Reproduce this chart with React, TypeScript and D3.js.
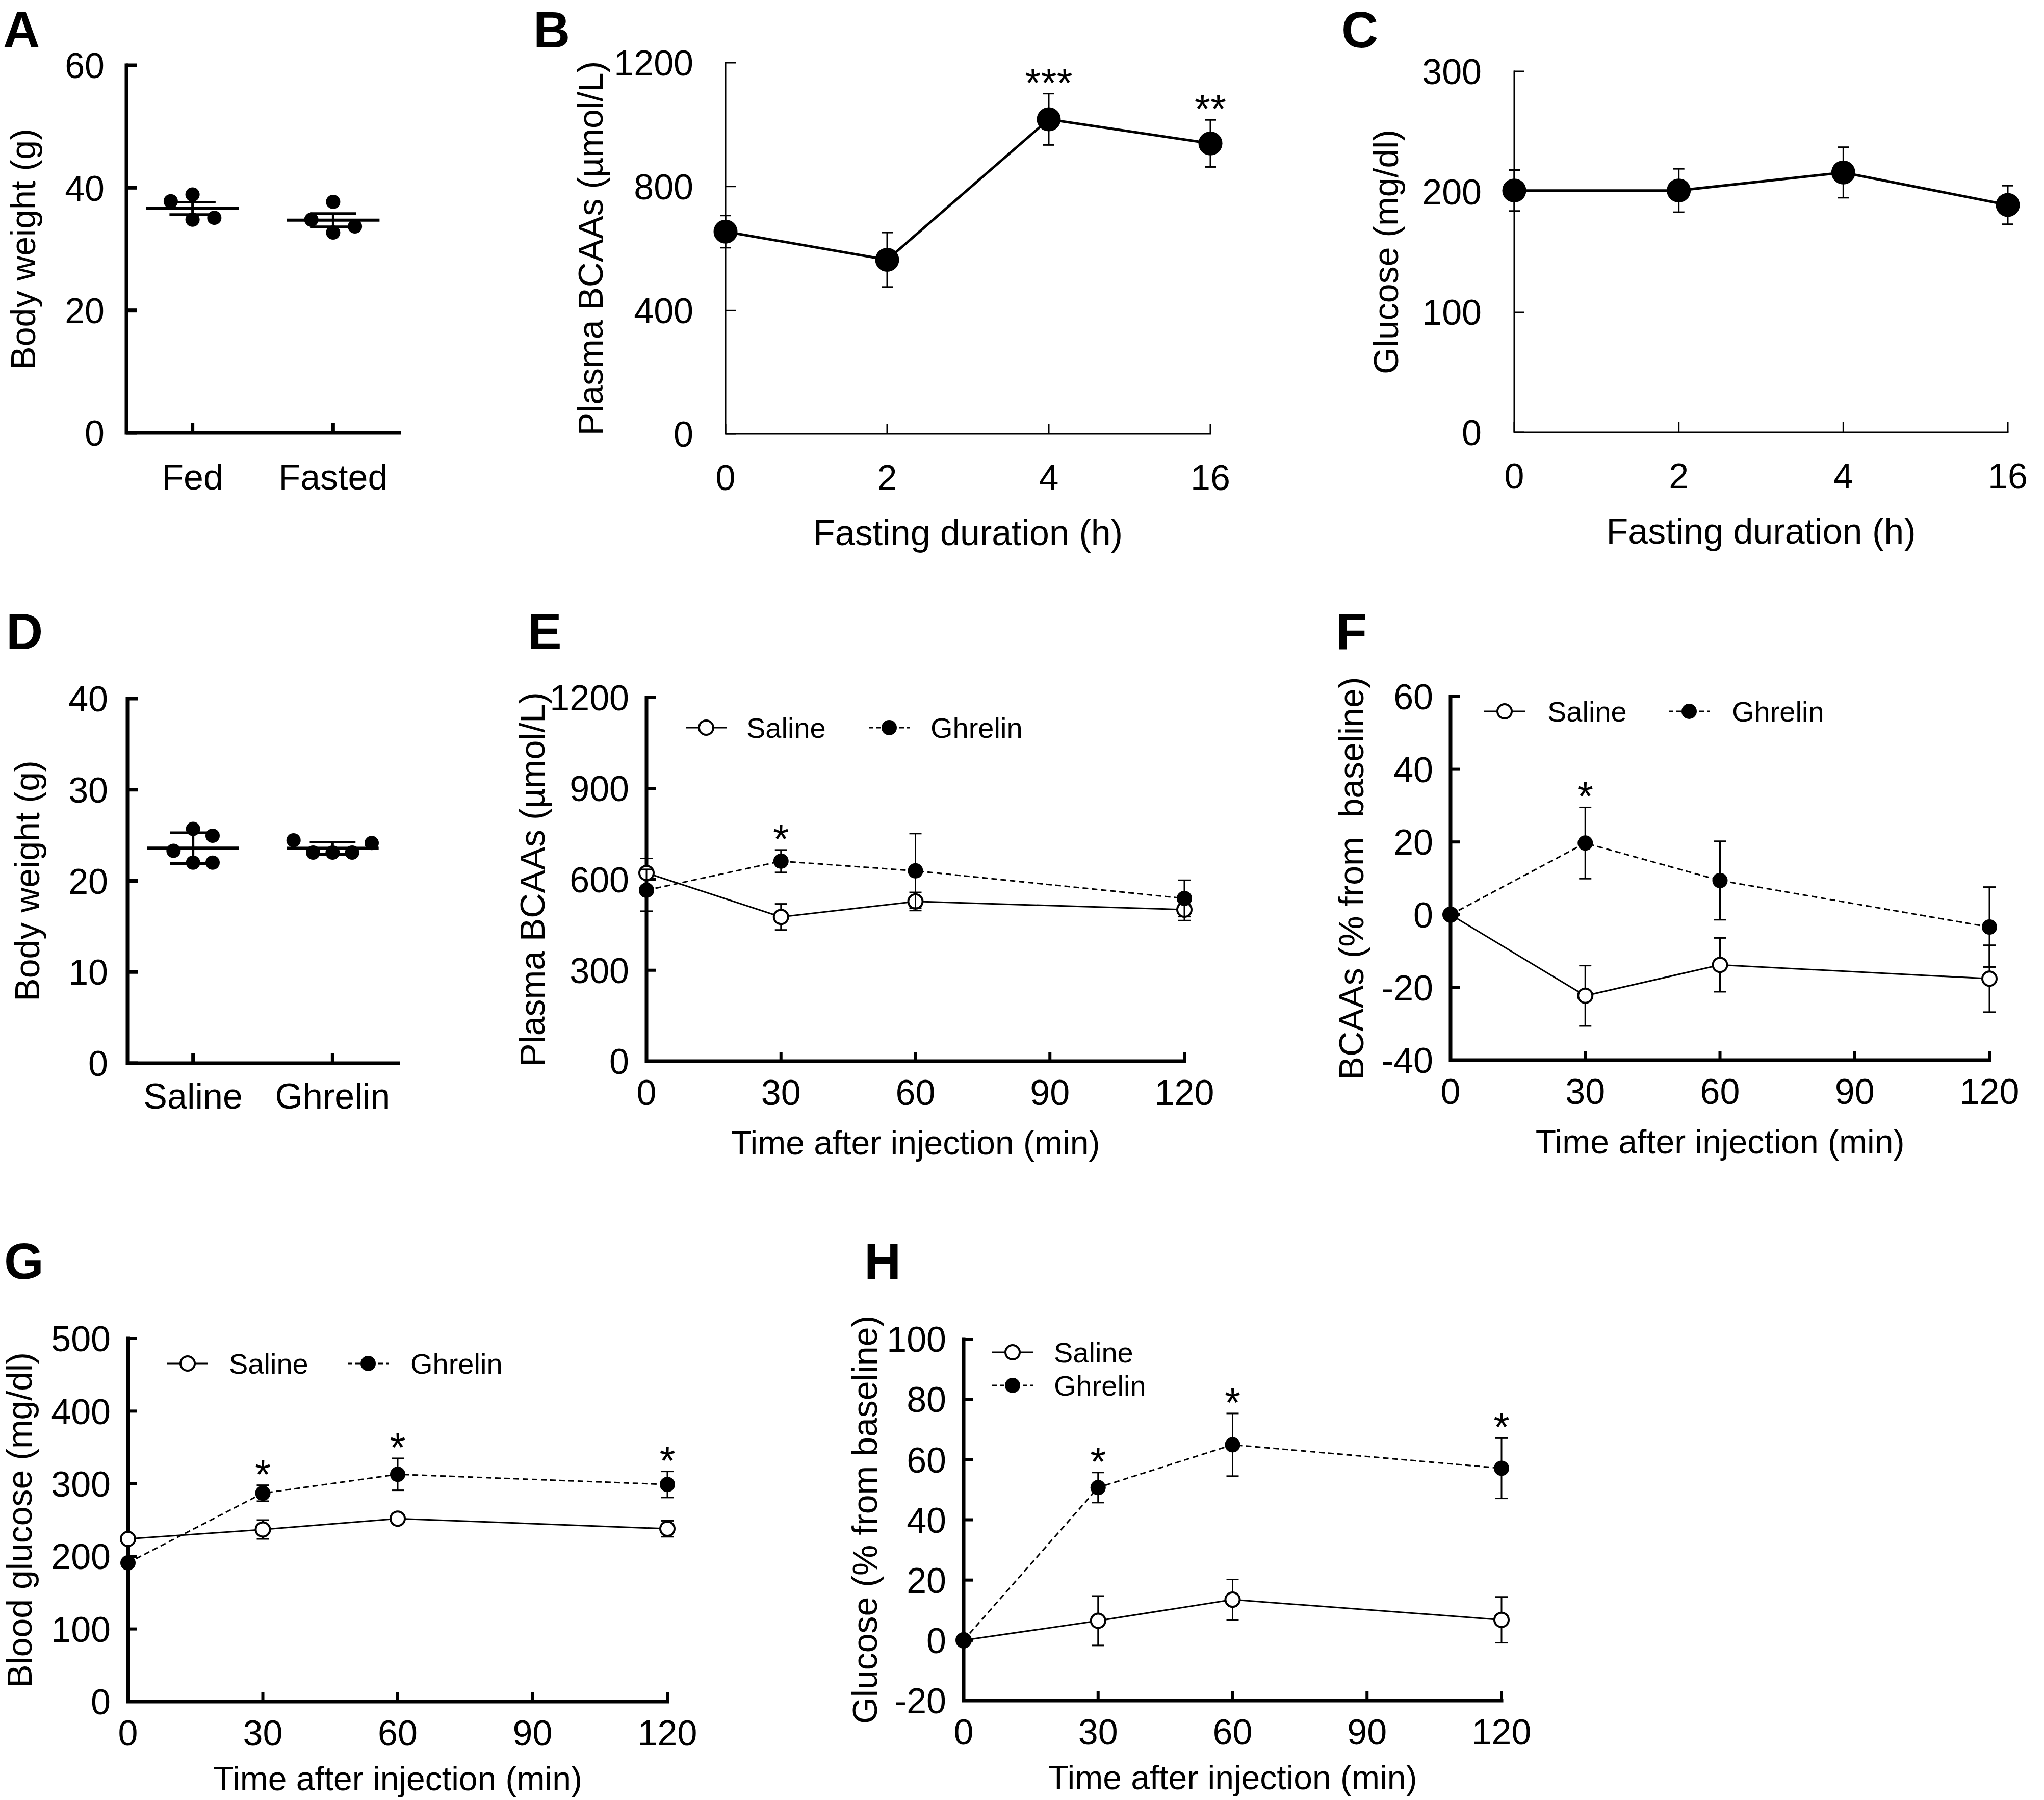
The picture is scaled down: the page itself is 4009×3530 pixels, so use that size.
import React from 'react';
import * as d3 from 'd3';

const FONT = "'Liberation Sans', Arial, Helvetica, sans-serif";

// ================= DATA =================
// Panel A – body weight, fed vs fasted
const groupsA = ['Fed', 'Fasted'];
const fedWeights = [38.9, 37.8, 34.8, 35.1];
const fastedWeights = [37.7, 32.7, 34.8, 33.7];
const ticksA = [0, 20, 40, 60];

// Panel B – plasma BCAAs vs fasting duration
const fastingHours = ['0', '2', '4', '16'];
const bcaaFastMean = [654, 563, 1017, 939];
const bcaaFastSem = [52, 88, 83, 76];
const starsB = ['', '', '***', '**'];
const ticksB = [0, 400, 800, 1200];

// Panel C – glucose vs fasting duration
const glucoseFastMean = [201, 201, 216, 189];
const glucoseFastSem = [17, 18, 21, 16];
const starsC = ['', '', '', ''];
const ticksC = [0, 100, 200, 300];

// Panel D – body weight, saline vs ghrelin
const groupsD = ['Saline', 'Ghrelin'];
const salineWeights = [22.0, 23.3, 22.0, 25.7, 24.95];
const ghrelinWeights = [23.1, 23.1, 23.1, 24.45, 24.15];
const ticksD = [0, 10, 20, 30, 40];

// Time course panels
const injectionTimes = [0, 30, 60, 120];
const timeTicks = [0, 30, 60, 90, 120];
const seriesNames = ['Saline', 'Ghrelin'];

// Panel E – plasma BCAAs after injection
const bcaaSalineMean = [621, 476, 527, 500];
const bcaaSalineSem = [48, 43, 30, 36];
const bcaaGhrelinMean = [564, 660, 628, 537];
const bcaaGhrelinSem = [69, 37, 123, 60];
const starsE = ['', '*', '', ''];
const ticksE = [0, 300, 600, 900, 1200];

// Panel F – BCAAs (% from baseline)
const bcaaPctSalineMean = [0, -22.3, -13.8, -17.6];
const bcaaPctSalineSem = [0, 8.3, 7.4, 9.2];
const bcaaPctGhrelinMean = [0, 19.7, 9.4, -3.4];
const bcaaPctGhrelinSem = [0, 9.8, 10.8, 11];
const starsF = ['', '*', '', ''];
const ticksF = [-40, -20, 0, 20, 40, 60];

// Panel G – blood glucose after injection
const glucoseSalineMean = [224, 237, 252, 238];
const glucoseSalineSem = [5, 13, 5, 11];
const glucoseGhrelinMean = [191, 287, 313, 299];
const glucoseGhrelinSem = [6, 11, 22, 18];
const starsG = ['', '*', '*', '*'];
const ticksG = [0, 100, 200, 300, 400, 500];

// Panel H – glucose (% from baseline)
const glucosePctSalineMean = [0, 6.5, 13.5, 6.8];
const glucosePctSalineSem = [0, 8.2, 6.7, 7.6];
const glucosePctGhrelinMean = [0, 50.7, 64.9, 57.1];
const glucosePctGhrelinSem = [0, 5, 10.4, 10];
const starsH = ['', '*', '*', '*'];
const ticksH = [-20, 0, 20, 40, 60, 80, 100];

// ================= STYLES =================
type Box = { x0: number; x1: number; yTop: number; yBot: number };

const thinStyle = {
  axisW: 3, tickW: 3, tickLen: 20, tickFs: 70, tickGap: 63, xLabelDy: 110,
  titleDy: 218, titleFs: 70, lineW: 5, errW: 3, capHalf: 11, r: 23.5,
  ringR: 22, ringW: 4, starFs: 80, starDy: 6, dash: '11 7', legendFs: 56, legendHalf: 40,
};
const timeStyle = {
  axisW: 7, tickW: 6, tickLen: 18, tickFs: 70, tickGap: 34, xLabelDy: 86,
  titleDy: 183, titleFs: 66, lineW: 3, errW: 3, capHalf: 12, r: 15,
  ringR: 14, ringW: 4, starFs: 80, starDy: 6, dash: '11 7', legendFs: 56, legendHalf: 40,
};
const bottomStyle = { ...timeStyle, titleDy: 174 };

function PanelLetter({ x, y, letter }: { x: number; y: number; letter: string }) {
  return (
    <text x={x} y={y} fontSize={100} fontWeight="bold" fontFamily={FONT}>
      {letter}
    </text>
  );
}

function YTitle({ x, box, text, size }: { x: number; box: Box; text: string; size: number }) {
  const cy = (box.yTop + box.yBot) / 2;
  return (
    <text
      transform={`translate(${x},${cy}) rotate(-90)`}
      textAnchor="middle"
      fontSize={size}
      fontFamily={FONT}
      style={{ whiteSpace: 'pre' }}
    >
      {text}
    </text>
  );
}

// ---------- Scatter (dot plot) panel ----------
function beeswarm(values: number[], y: (v: number) => number, thresh: number) {
  const placed: { col: number; py: number }[] = [];
  const order = [0, -1, 1, -2, 2, -3, 3];
  return values.map((v) => {
    const py = y(v);
    for (const c of order) {
      if (!placed.some((p) => p.col === c && Math.abs(p.py - py) < thresh)) {
        placed.push({ col: c, py });
        return { v, col: c };
      }
    }
    placed.push({ col: 0, py });
    return { v, col: 0 };
  });
}

type ScatterProps = {
  box: Box;
  groups: string[];
  values: number[][];
  ticks: number[];
  errType: 'sem' | 'sd';
  letter: string;
  letterPos: [number, number];
  yTitle: string;
  yTitleX: number;
  catDy: number;
  tickGap: number;
  colFrac: number;
};

function ScatterPanel(p: ScatterProps) {
  const { box } = p;
  const x = d3.scalePoint<string>().domain(p.groups).range([box.x0, box.x1]).padding(0.47);
  const y = d3
    .scaleLinear()
    .domain([p.ticks[0], p.ticks[p.ticks.length - 1]])
    .range([box.yBot, box.yTop]);
  const step = x.step();
  const colW = step * p.colFrac;
  const meanHalf = step * 0.33;
  const capHalf = step * 0.164;
  const axisW = 7;
  const tickLen = 20;
  return (
    <g>
      <PanelLetter x={p.letterPos[0]} y={p.letterPos[1]} letter={p.letter} />
      <YTitle x={p.yTitleX} box={box} text={p.yTitle} size={68} />
      <path
        d={`M${box.x0},${box.yTop}V${box.yBot}H${box.x1}`}
        fill="none"
        stroke="#000"
        strokeWidth={axisW}
        strokeLinecap="square"
      />
      {p.ticks.map((t) => (
        <g key={t}>
          <line x1={box.x0} x2={box.x0 + tickLen} y1={y(t)} y2={y(t)} stroke="#000" strokeWidth={axisW} />
          <text x={box.x0 - p.tickGap} y={y(t)} dy="0.36em" textAnchor="end" fontSize={70} fontFamily={FONT}>
            {t}
          </text>
        </g>
      ))}
      {p.groups.map((g, gi) => {
        const cx = x(g) as number;
        const vals = p.values[gi];
        const m = d3.mean(vals) as number;
        const sd = d3.deviation(vals) as number;
        const err = p.errType === 'sem' ? sd / Math.sqrt(vals.length) : sd;
        const pts = beeswarm(vals, y, 42);
        return (
          <g key={g}>
            <line x1={cx} x2={cx} y1={box.yBot} y2={box.yBot - tickLen} stroke="#000" strokeWidth={axisW} />
            <text x={cx} y={box.yBot + p.catDy} textAnchor="middle" fontSize={70} fontFamily={FONT}>
              {g}
            </text>
            {pts.map((d, i) => (
              <circle key={i} cx={cx + d.col * colW} cy={y(d.v)} r={14} fill="#000" />
            ))}
            <line x1={cx - meanHalf} x2={cx + meanHalf} y1={y(m)} y2={y(m)} stroke="#000" strokeWidth={6} />
            <line x1={cx} x2={cx} y1={y(m - err)} y2={y(m + err)} stroke="#000" strokeWidth={5} />
            <line x1={cx - capHalf} x2={cx + capHalf} y1={y(m + err)} y2={y(m + err)} stroke="#000" strokeWidth={5} />
            <line x1={cx - capHalf} x2={cx + capHalf} y1={y(m - err)} y2={y(m - err)} stroke="#000" strokeWidth={5} />
          </g>
        );
      })}
    </g>
  );
}

// ---------- Line (mean ± SEM) panel ----------
type Series = { name: string; mean: number[]; sem: number[]; open: boolean; dashed: boolean };
type LegendItem = { series: number; mx: number; my: number; tx: number };

type LineProps = {
  box: Box;
  xPos: (i: number) => number;
  xTicks: { x: number; label: string }[];
  ticks: number[];
  series: Series[];
  stars: string[];
  st: typeof timeStyle;
  letter: string;
  letterPos: [number, number];
  yTitle: string;
  yTitleX: number;
  xTitle: string;
  legend?: LegendItem[];
};

function LinePanel(p: LineProps) {
  const { box, st } = p;
  const y = d3
    .scaleLinear()
    .domain([p.ticks[0], p.ticks[p.ticks.length - 1]])
    .range([box.yBot, box.yTop]);
  const line = d3
    .line<number>()
    .x((_, i) => p.xPos(i))
    .y((d) => y(d));

  const marker = (s: Series, cx: number, cy: number, key?: any) =>
    s.open ? (
      <circle key={key} cx={cx} cy={cy} r={st.ringR} fill="#fff" stroke="#000" strokeWidth={st.ringW} />
    ) : (
      <circle key={key} cx={cx} cy={cy} r={st.r} fill="#000" />
    );

  return (
    <g>
      <PanelLetter x={p.letterPos[0]} y={p.letterPos[1]} letter={p.letter} />
      <YTitle x={p.yTitleX} box={box} text={p.yTitle} size={68} />
      <text
        x={(box.x0 + box.x1) / 2}
        y={box.yBot + st.titleDy}
        textAnchor="middle"
        fontSize={st.titleFs}
        fontFamily={FONT}
      >
        {p.xTitle}
      </text>
      <path
        d={`M${box.x0},${box.yTop}V${box.yBot}H${box.x1}`}
        fill="none"
        stroke="#000"
        strokeWidth={st.axisW}
        strokeLinecap="square"
      />
      {p.ticks.map((t) => (
        <g key={t}>
          <line x1={box.x0} x2={box.x0 + st.tickLen} y1={y(t)} y2={y(t)} stroke="#000" strokeWidth={st.tickW} />
          <text x={box.x0 - st.tickGap} y={y(t)} dy="0.36em" textAnchor="end" fontSize={st.tickFs} fontFamily={FONT}>
            {t}
          </text>
        </g>
      ))}
      {p.xTicks.map((t, i) => (
        <g key={i}>
          <line x1={t.x} x2={t.x} y1={box.yBot} y2={box.yBot - st.tickLen} stroke="#000" strokeWidth={st.tickW} />
          <text x={t.x} y={box.yBot + st.xLabelDy} textAnchor="middle" fontSize={st.tickFs} fontFamily={FONT}>
            {t.label}
          </text>
        </g>
      ))}
      {p.series.map((s, si) => (
        <g key={si}>
          {s.sem.map((e, i) =>
            e > 0 ? (
              <g key={i}>
                <line x1={p.xPos(i)} x2={p.xPos(i)} y1={y(s.mean[i] - e)} y2={y(s.mean[i] + e)} stroke="#000" strokeWidth={st.errW} />
                <line x1={p.xPos(i) - st.capHalf} x2={p.xPos(i) + st.capHalf} y1={y(s.mean[i] + e)} y2={y(s.mean[i] + e)} stroke="#000" strokeWidth={st.errW} />
                <line x1={p.xPos(i) - st.capHalf} x2={p.xPos(i) + st.capHalf} y1={y(s.mean[i] - e)} y2={y(s.mean[i] - e)} stroke="#000" strokeWidth={st.errW} />
              </g>
            ) : null
          )}
          <path
            d={line(s.mean) as string}
            fill="none"
            stroke="#000"
            strokeWidth={st.lineW}
            strokeDasharray={s.dashed ? st.dash : undefined}
          />
          {s.mean.map((m, i) => marker(s, p.xPos(i), y(m), i))}
        </g>
      ))}
      {p.stars.map((s, i) => {
        if (!s) return null;
        const top = d3.max(p.series, (ser) => ser.mean[i] + ser.sem[i]) as number;
        return (
          <text key={i} x={p.xPos(i)} y={y(top) + st.starDy} textAnchor="middle" fontSize={st.starFs} fontFamily={FONT}>
            {s}
          </text>
        );
      })}
      {p.legend?.map((l, li) => {
        const s = p.series[l.series];
        return (
          <g key={li}>
            <line
              x1={l.mx - st.legendHalf}
              x2={l.mx + st.legendHalf}
              y1={l.my}
              y2={l.my}
              stroke="#000"
              strokeWidth={st.lineW}
              strokeDasharray={s.dashed ? '9 6' : undefined}
            />
            {marker(s, l.mx, l.my)}
            <text x={l.tx} y={l.my} dy="0.36em" fontSize={st.legendFs} fontFamily={FONT}>
              {s.name}
            </text>
          </g>
        );
      })}
    </g>
  );
}

// ================= LAYOUT =================
const boxA: Box = { x0: 248, x1: 783, yTop: 128, yBot: 849 };
const boxB: Box = { x0: 1423, x1: 2374, yTop: 123, yBot: 851 };
const boxC: Box = { x0: 2970, x1: 3938, yTop: 140, yBot: 848 };
const boxD: Box = { x0: 250, x1: 781, yTop: 1370, yBot: 2085 };
const boxE: Box = { x0: 1268, x1: 2323, yTop: 1368, yBot: 2081 };
const boxF: Box = { x0: 2845, x1: 3902, yTop: 1366, yBot: 2079 };
const boxG: Box = { x0: 251, x1: 1309, yTop: 2625, yBot: 3337 };
const boxH: Box = { x0: 1890, x1: 2945, yTop: 2626, yBot: 3335 };

function timeX(box: Box) {
  const x = d3.scaleLinear().domain([0, 120]).range([box.x0, box.x1]);
  return {
    xPos: (i: number) => x(injectionTimes[i]),
    xTicks: timeTicks.map((t) => ({ x: x(t), label: String(t) })),
  };
}
function fastX(box: Box) {
  const x = d3.scalePoint<string>().domain(fastingHours).range([box.x0, box.x1]);
  return {
    xPos: (i: number) => x(fastingHours[i]) as number,
    xTicks: fastingHours.map((h) => ({ x: x(h) as number, label: h })),
  };
}

function twoSeries(sm: number[], ss: number[], gm: number[], gs: number[]): Series[] {
  return [
    { name: seriesNames[0], mean: sm, sem: ss, open: true, dashed: false },
    { name: seriesNames[1], mean: gm, sem: gs, open: false, dashed: true },
  ];
}

export default function App() {
  const bX = fastX(boxB);
  const cX = fastX(boxC);
  const eX = timeX(boxE);
  const fX = timeX(boxF);
  const gX = timeX(boxG);
  const hX = timeX(boxH);
  return (
    <svg
      width={4009}
      height={3530}
      viewBox="0 0 4009 3530"
      style={{ position: 'absolute', left: 0, top: 0, display: 'block' }}
    >
      <rect x={0} y={0} width={4009} height={3530} fill="#fff" />
      <ScatterPanel
        box={boxA}
        groups={groupsA}
        values={[fedWeights, fastedWeights]}
        ticks={ticksA}
        errType="sem"
        letter="A"
        letterPos={[6, 93]}
        yTitle="Body weight (g)"
        yTitleX={69}
        catDy={111}
        tickGap={43}
        colFrac={0.155}
      />
      <LinePanel
        box={boxB}
        {...bX}
        ticks={ticksB}
        series={[{ name: 'BCAAs', mean: bcaaFastMean, sem: bcaaFastSem, open: false, dashed: false }]}
        stars={starsB}
        st={thinStyle}
        letter="B"
        letterPos={[1046, 93]}
        yTitle="Plasma BCAAs (µmol/L)"
        yTitleX={1182}
        xTitle="Fasting duration (h)"
      />
      <LinePanel
        box={boxC}
        {...cX}
        ticks={ticksC}
        series={[{ name: 'Glucose', mean: glucoseFastMean, sem: glucoseFastSem, open: false, dashed: false }]}
        stars={starsC}
        st={{ ...thinStyle, tickGap: 64 }}
        letter="C"
        letterPos={[2631, 93]}
        yTitle="Glucose (mg/dl)"
        yTitleX={2742}
        xTitle="Fasting duration (h)"
      />
      <ScatterPanel
        box={boxD}
        groups={groupsD}
        values={[salineWeights, ghrelinWeights]}
        ticks={ticksD}
        errType="sd"
        letter="D"
        letterPos={[12, 1273]}
        yTitle="Body weight (g)"
        yTitleX={77}
        catDy={89}
        tickGap={38}
        colFrac={0.14}
      />
      <LinePanel
        box={boxE}
        {...eX}
        ticks={ticksE}
        series={twoSeries(bcaaSalineMean, bcaaSalineSem, bcaaGhrelinMean, bcaaGhrelinSem)}
        stars={starsE}
        st={timeStyle}
        letter="E"
        letterPos={[1035, 1273]}
        yTitle="Plasma BCAAs (µmol/L)"
        yTitleX={1068}
        xTitle="Time after injection (min)"
        legend={[
          { series: 0, mx: boxE.x0 + 117, my: boxE.yTop + 59, tx: boxE.x0 + 196 },
          { series: 1, mx: boxE.x0 + 476, my: boxE.yTop + 59, tx: boxE.x0 + 557 },
        ]}
      />
      <LinePanel
        box={boxF}
        {...fX}
        ticks={ticksF}
        series={twoSeries(bcaaPctSalineMean, bcaaPctSalineSem, bcaaPctGhrelinMean, bcaaPctGhrelinSem)}
        stars={starsF}
        st={timeStyle}
        letter="F"
        letterPos={[2620, 1273]}
        yTitle="BCAAs (% from  baseline)"
        yTitleX={2674}
        xTitle="Time after injection (min)"
        legend={[
          { series: 0, mx: boxF.x0 + 106, my: boxF.yTop + 29, tx: boxF.x0 + 190 },
          { series: 1, mx: boxF.x0 + 468, my: boxF.yTop + 29, tx: boxF.x0 + 552 },
        ]}
      />
      <LinePanel
        box={boxG}
        {...gX}
        ticks={ticksG}
        series={twoSeries(glucoseSalineMean, glucoseSalineSem, glucoseGhrelinMean, glucoseGhrelinSem)}
        stars={starsG}
        st={bottomStyle}
        letter="G"
        letterPos={[8, 2508]}
        yTitle="Blood glucose (mg/dl)"
        yTitleX={62}
        xTitle="Time after injection (min)"
        legend={[
          { series: 0, mx: boxG.x0 + 117, my: boxG.yTop + 49, tx: boxG.x0 + 198 },
          { series: 1, mx: boxG.x0 + 471, my: boxG.yTop + 49, tx: boxG.x0 + 554 },
        ]}
      />
      <LinePanel
        box={boxH}
        {...hX}
        ticks={ticksH}
        series={twoSeries(glucosePctSalineMean, glucosePctSalineSem, glucosePctGhrelinMean, glucosePctGhrelinSem)}
        stars={starsH}
        st={bottomStyle}
        letter="H"
        letterPos={[1695, 2508]}
        yTitle="Glucose (% from baseline)"
        yTitleX={1720}
        xTitle="Time after injection (min)"
        legend={[
          { series: 0, mx: boxH.x0 + 96, my: boxH.yTop + 26, tx: boxH.x0 + 177 },
          { series: 1, mx: boxH.x0 + 96, my: boxH.yTop + 91, tx: boxH.x0 + 177 },
        ]}
      />
    </svg>
  );
}
